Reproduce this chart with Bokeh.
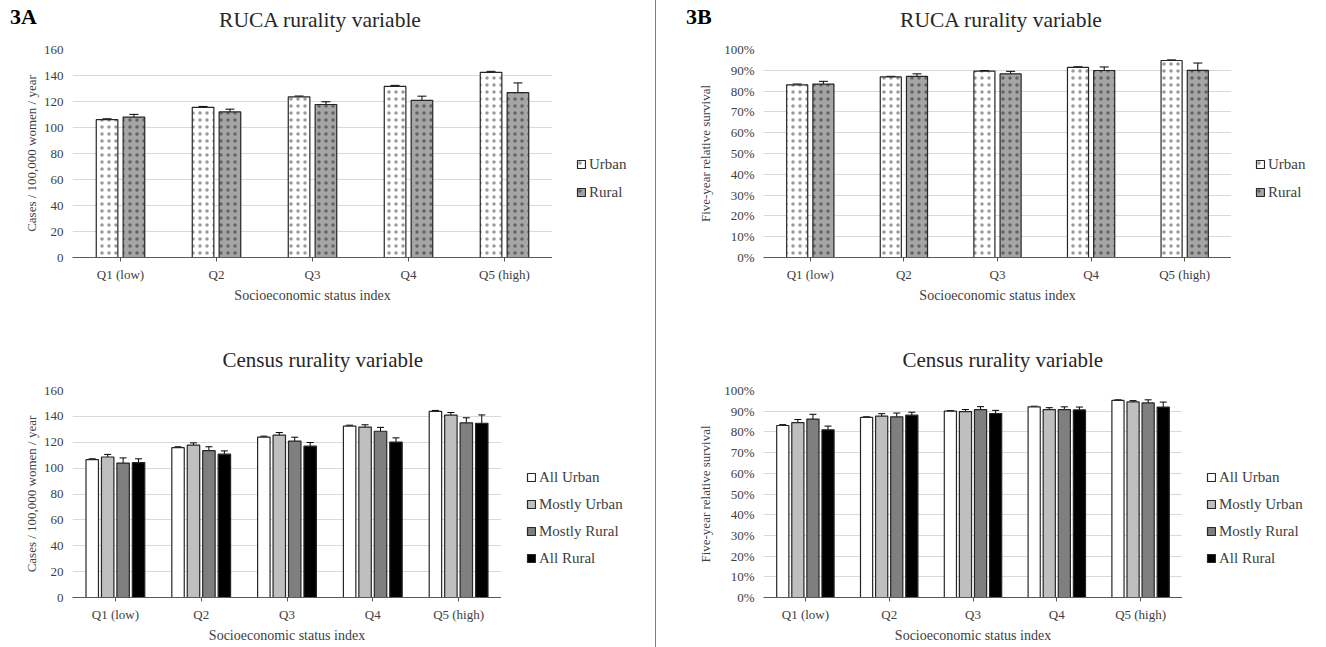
from bokeh.plotting import figure
from bokeh.models import (FactorRange, Range1d, Whisker, TeeHead, ColumnDataSource,
                          Legend, LegendItem, Title, PrintfTickFormatter, FixedTicker,
                          Spacer, Div)
from bokeh.transform import dodge
from bokeh.layouts import row, column
from bokeh.embed import file_html
from bokeh.resources import INLINE

# ---------------- data ----------------
categories = ["Q1 (low)", "Q2", "Q3", "Q4", "Q5 (high)"]

# 3A RUCA: incidence (cases / 100,000 women / year)
ruca_inc_urban = [106.0, 115.5, 123.5, 131.6, 142.4]
ruca_inc_urban_err = [0.7, 0.7, 0.7, 0.8, 0.8]
ruca_inc_rural = [108.0, 112.0, 117.7, 120.8, 126.8]
ruca_inc_rural_err = [2.1, 2.1, 2.1, 3.3, 7.5]

# 3B RUCA: five-year relative survival (%)
ruca_surv_urban = [83.0, 86.8, 89.6, 91.4, 94.7]
ruca_surv_urban_err = [0.4, 0.3, 0.3, 0.3, 0.3]
ruca_surv_rural = [83.4, 87.1, 88.3, 89.9, 90.0]
ruca_surv_rural_err = [1.3, 1.2, 1.2, 1.7, 3.5]

# 3A Census: incidence
cen_inc_all_urban = [106.5, 115.8, 124.0, 132.5, 143.8]
cen_inc_all_urban_err = [0.7, 0.7, 0.7, 0.7, 0.8]
cen_inc_mostly_urban = [108.6, 117.8, 125.5, 131.7, 141.0]
cen_inc_mostly_urban_err = [2.0, 1.7, 2.0, 1.8, 2.0]
cen_inc_mostly_rural = [103.9, 113.5, 120.9, 128.5, 135.0]
cen_inc_mostly_rural_err = [4.0, 3.0, 3.0, 3.0, 3.9]
cen_inc_all_rural = [104.2, 110.8, 117.0, 120.1, 134.7]
cen_inc_all_rural_err = [3.0, 2.5, 2.8, 3.3, 6.4]

# 3B Census: survival
cen_surv_all_urban = [83.1, 87.0, 90.0, 92.1, 95.2]
cen_surv_all_urban_err = [0.4, 0.3, 0.3, 0.3, 0.3]
cen_surv_mostly_urban = [84.5, 87.6, 89.8, 90.8, 94.5]
cen_surv_mostly_urban_err = [1.5, 1.2, 1.0, 0.9, 0.6]
cen_surv_mostly_rural = [86.2, 87.3, 90.8, 90.8, 94.0]
cen_surv_mostly_rural_err = [2.3, 1.8, 1.4, 1.3, 1.5]
cen_surv_all_rural = [81.0, 88.1, 88.9, 90.6, 92.0]
cen_surv_all_rural_err = [1.8, 1.4, 1.5, 1.4, 2.4]

inc_ticks = [0, 20, 40, 60, 80, 100, 120, 140, 160]
surv_ticks = [0, 10, 20, 30, 40, 50, 60, 70, 80, 90, 100]

FONT = "Liberation Serif"
TXT = "#404040"
OUTLINE = "#262626"


def bar_style(color, hatch):
    kw = dict(fill_color=color, line_color=OUTLINE, line_width=1.2)
    if hatch:
        kw.update(hatch_pattern="dot", hatch_color="black", hatch_scale=7,
                  hatch_weight=0.25, hatch_alpha=0.4)
    return kw


def make_sources(series):
    out = []
    for name, vals, errs, color, hatch in series:
        out.append(ColumnDataSource(dict(cat=categories, val=vals,
                                         lo=[v - e for v, e in zip(vals, errs)],
                                         hi=[v + e for v, e in zip(vals, errs)])))
    return out


def make_chart(width, height, borders, y_ticks, y_label, pct, series, sources, offsets,
               bar_w, cap, y_label_standoff, title=None):
    bl, br, bt, bb = borders
    p = figure(x_range=FactorRange(factors=categories),
               y_range=Range1d(0, y_ticks[-1]),
               width=width, height=height, output_backend="svg", toolbar_location=None,
               min_border_left=bl, min_border_right=br, min_border_top=bt,
               min_border_bottom=bb, title=title)
    p.outline_line_color = None
    p.xgrid.visible = False
    p.ygrid.grid_line_color = "#d9d9d9"
    p.ygrid.grid_line_width = 1

    p.yaxis.ticker = FixedTicker(ticks=y_ticks)
    if pct:
        p.yaxis.formatter = PrintfTickFormatter(format="%d%%")
    p.yaxis.axis_line_color = None
    p.yaxis.major_tick_line_color = None
    p.yaxis.minor_tick_line_color = None
    p.yaxis.major_tick_out = 0
    p.yaxis.major_tick_in = 0
    p.yaxis.minor_tick_out = 0
    p.yaxis.major_label_standoff = 9
    p.yaxis.axis_label = y_label
    p.yaxis.axis_label_standoff = y_label_standoff
    p.yaxis.axis_label_text_font = FONT
    p.yaxis.axis_label_text_font_size = "13px"
    p.yaxis.axis_label_text_font_style = "normal"
    p.yaxis.axis_label_text_color = TXT

    p.xaxis.axis_line_color = "#595959"
    p.xaxis.major_tick_line_color = "#595959"
    p.xaxis.major_tick_in = 0
    p.xaxis.major_tick_out = 4
    p.xaxis.major_label_standoff = 5
    p.xaxis.axis_label = "Socioeconomic status index"
    p.xaxis.axis_label_standoff = 3
    p.xaxis.axis_label_text_font = FONT
    p.xaxis.axis_label_text_font_size = "14px"
    p.xaxis.axis_label_text_font_style = "normal"
    p.xaxis.axis_label_text_color = TXT

    for ax in (p.xaxis, p.yaxis):
        ax.major_label_text_font = FONT
        ax.major_label_text_font_size = "13px"
        ax.major_label_text_color = TXT

    for (name, vals, errs, color, hatch), src, off in zip(series, sources, offsets):
        p.vbar(x=dodge("cat", off, range=p.x_range), top="val", width=bar_w,
               source=src, **bar_style(color, hatch))
        w = Whisker(base=dodge("cat", off, range=p.x_range), upper="hi", lower="lo",
                    source=src, line_color="black", line_width=1,
                    upper_head=TeeHead(size=cap, line_color="black", line_width=1),
                    lower_head=TeeHead(size=cap, line_color="black", line_width=1))
        p.add_layout(w)
    return p


def make_legend(width, height, series, sources, legend_xy, spacing):
    """Companion plot holding the chart's legend (its frame lines up with the chart's).
    Its x range holds none of the categories, so the bars themselves are not drawn."""
    lg = figure(width=width, height=height, x_range=FactorRange(factors=["legend"]),
                y_range=Range1d(0, 1), x_axis_location=None, y_axis_location=None,
                output_backend="svg", toolbar_location=None, min_border=0)
    lg.outline_line_color = None
    lg.grid.visible = False
    items = []
    for (name, vals, errs, color, hatch), src in zip(series, sources):
        r = lg.vbar(x="cat", top="val", width=0.1, source=src, **bar_style(color, hatch))
        items.append(LegendItem(label=name, renderers=[r], index=0))
    legend = Legend(items=items, location=legend_xy, glyph_width=10, glyph_height=10,
                    label_text_font=FONT, label_text_font_size="15px",
                    label_text_color=TXT, label_standoff=3, spacing=spacing,
                    label_height=20, padding=0, margin=0, border_line_color=None,
                    background_fill_alpha=0)
    lg.add_layout(legend)
    return lg


def census_title(offset):
    return Title(text="Census rurality variable", align="left", offset=offset,
                 vertical_align="middle", standoff=35, text_font=FONT,
                 text_font_size="21px", text_font_style="normal", text_color="#262626")


def header(width, tag, tag_left, title, title_center):
    html = (
        f'<div style="position:relative;width:{width}px;height:32px;'
        f'font-family:\'Liberation Serif\';white-space:nowrap;">'
        f'<span style="position:absolute;left:{tag_left}px;top:4px;font-size:22px;'
        f'line-height:26px;font-weight:bold;color:black;">{tag}</span>'
        f'<span style="position:absolute;left:{title_center}px;top:8px;font-size:21.5px;'
        f'line-height:24px;color:#262626;transform:translateX(-50%);">{title}</span>'
        f'</div>'
    )
    return Div(text=html, width=width, height=32, margin=0)


two_off = [-0.14, 0.14]
four_off = [-0.27, -0.09, 0.09, 0.27]

ruca_inc_series = [("Urban", ruca_inc_urban, ruca_inc_urban_err, "white", True),
                   ("Rural", ruca_inc_rural, ruca_inc_rural_err, "#a5a5a5", True)]
cen_inc_series = [("All Urban", cen_inc_all_urban, cen_inc_all_urban_err, "white", False),
                  ("Mostly Urban", cen_inc_mostly_urban, cen_inc_mostly_urban_err, "#bfbfbf", False),
                  ("Mostly Rural", cen_inc_mostly_rural, cen_inc_mostly_rural_err, "#7f7f7f", False),
                  ("All Rural", cen_inc_all_rural, cen_inc_all_rural_err, "black", False)]
ruca_surv_series = [("Urban", ruca_surv_urban, ruca_surv_urban_err, "white", True),
                    ("Rural", ruca_surv_rural, ruca_surv_rural_err, "#a5a5a5", True)]
cen_surv_series = [("All Urban", cen_surv_all_urban, cen_surv_all_urban_err, "white", False),
                   ("Mostly Urban", cen_surv_mostly_urban, cen_surv_mostly_urban_err, "#bfbfbf", False),
                   ("Mostly Rural", cen_surv_mostly_rural, cen_surv_mostly_rural_err, "#7f7f7f", False),
                   ("All Rural", cen_surv_all_rural, cen_surv_all_rural_err, "black", False)]

s_tl = make_sources(ruca_inc_series)
s_bl = make_sources(cen_inc_series)
s_tr = make_sources(ruca_surv_series)
s_br = make_sources(cen_surv_series)

tl = make_chart(552, 288, (72, 0, 17, 63), inc_ticks, "Cases / 100,000 women / year", False,
                ruca_inc_series, s_tl, two_off, 0.225, 9, 2)
tl_leg = make_legend(103, 288, ruca_inc_series, s_tl, (24, 55), 8)

bl = make_chart(501, 327, (72, 0, 70, 50), inc_ticks, "Cases / 100,000 women / year", False,
                cen_inc_series, s_bl, four_off, 0.145, 7, 2, title=census_title(150))
bl_leg = make_legend(154, 327, cen_inc_series, s_bl, (25, 29), 7)

tr = make_chart(575, 288, (107, 0, 17, 63), surv_ticks, "Five-year relative survival", True,
                ruca_surv_series, s_tr, two_off, 0.225, 9, 8)
tr_leg = make_legend(95, 288, ruca_surv_series, s_tr, (24, 55), 8)

br = make_chart(526, 327, (107, 0, 70, 50), surv_ticks, "Five-year relative survival", True,
                cen_surv_series, s_br, four_off, 0.145, 7, 8, title=census_title(139))
br_leg = make_legend(144, 327, cen_surv_series, s_br, (24, 29), 7)

head_l = header(655, "3A", 10, "RUCA rurality variable", 320)
head_r = header(670, "3B", 30, "RUCA rurality variable", 345)

divider = Spacer(width=1, height=647, styles={"background-color": "#7f7f7f"})
layout = row(column(head_l, row(tl, tl_leg), row(bl, bl_leg)), divider,
             column(head_r, row(tr, tr_leg), row(br, br_leg)))

open("out.html", "w").write(file_html(layout, INLINE))
